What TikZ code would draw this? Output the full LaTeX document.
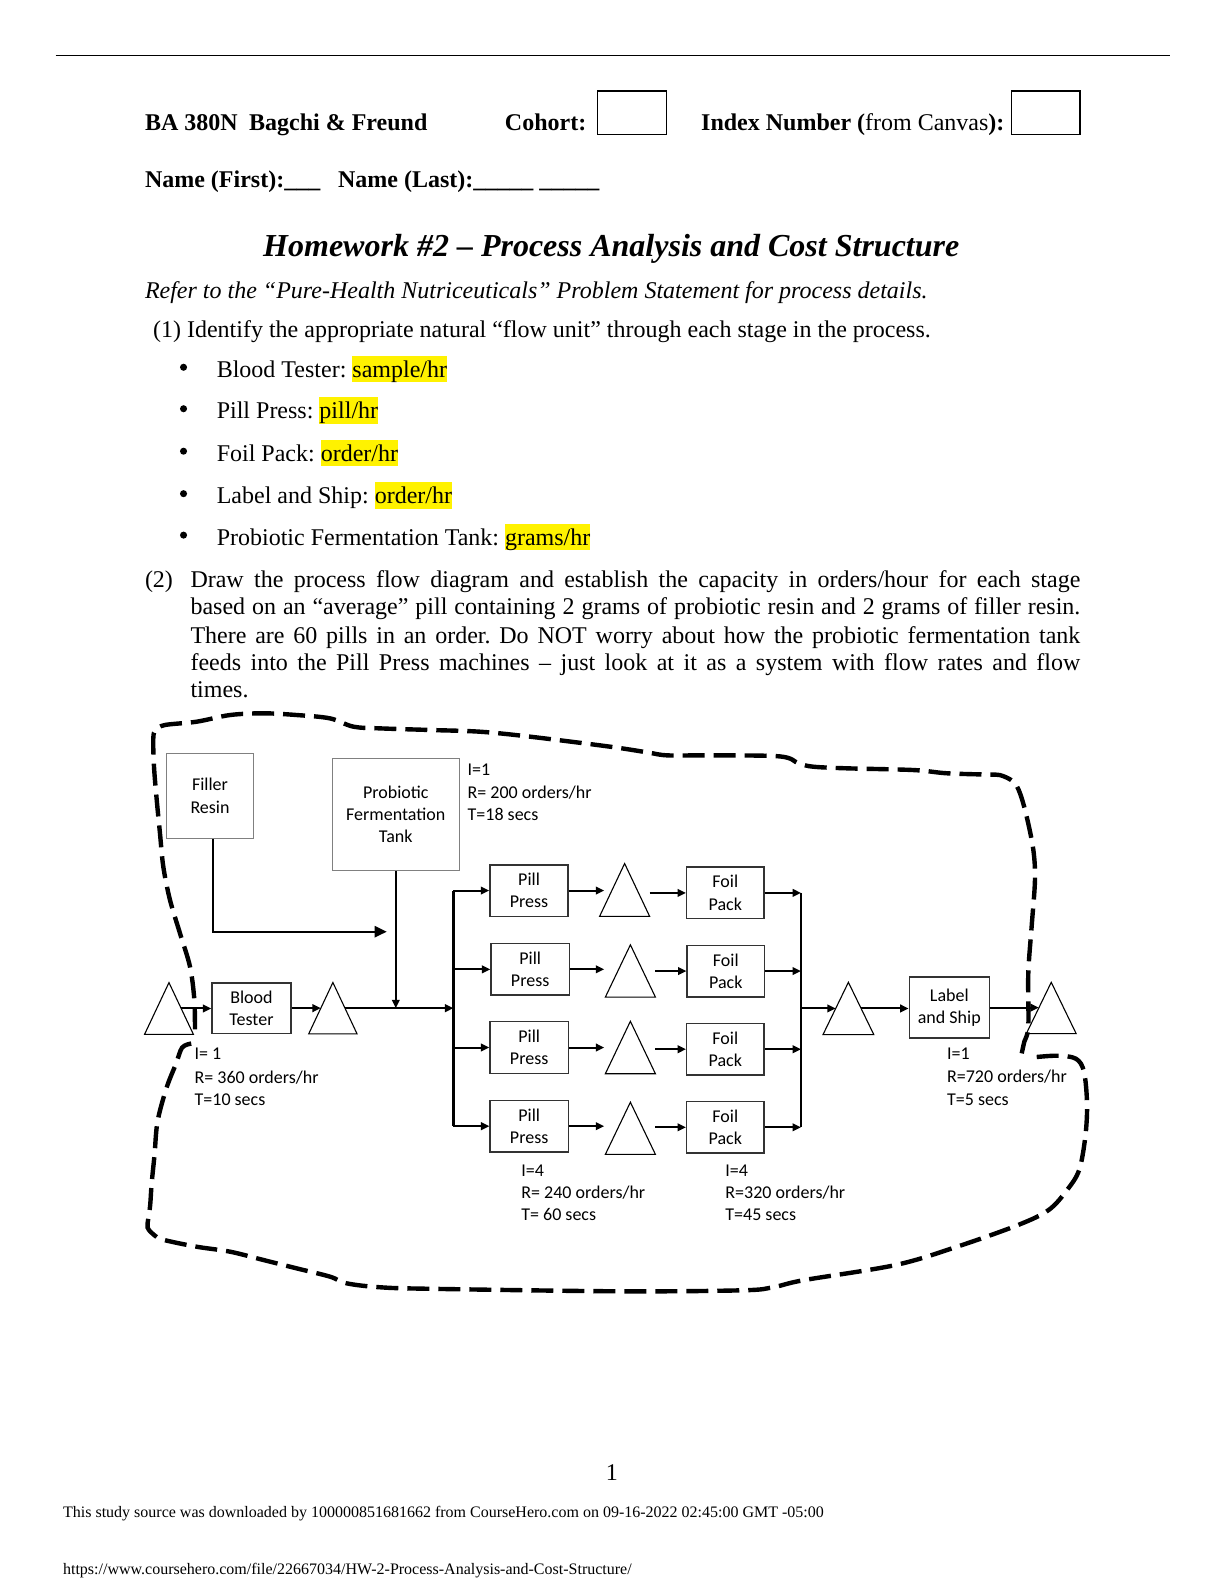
\documentclass[tikz,border=0pt]{standalone}
\usepackage{fontspec}
\setmainfont{Liberation Serif}
\newfontfamily\dgfont{Carlito}
\usetikzlibrary{arrows.meta,calc}
\newdimen\px \px=0.5056pt
\newcommand\dgf{\dgfont\fontsize{9pt}{11.1pt}\selectfont}
\newcommand\bodyf{\fontsize{12pt}{14pt}\selectfont}
\newcommand\hlt[1]{{\setlength{\fboxsep}{0pt}\colorbox{yellow}{\vrule height 10.7pt depth 2.6pt width 0pt#1}}}
\frenchspacing
\begin{document}
\bodyf
\begin{tikzpicture}[x=0.5056pt,y=-0.5056pt,
  txt/.style={inner sep=0pt, anchor=base west, font=\bodyf},
  btxt/.style={txt, font=\bodyf\bfseries},
  fieldbox/.style={draw=black, line width=0.6pt, inner sep=0pt, minimum width=68\px, minimum height=43\px},
  bulletdot/.style={circle, fill=black, inner sep=0pt, minimum size=7\px},
  pbox/.style={draw=black!80, line width=0.75pt, inner sep=0pt, align=center, font=\dgf},
  srcbox/.style={pbox, draw=black!50},
  tribox/.style={inner sep=0pt},
  triline/.style={draw=black, line width=0.55pt},
  flow/.style={line width=1pt, -{Triangle[length=4.2pt,width=3.8pt]}},
  bigflow/.style={line width=1pt, -{Triangle[length=6pt,width=5.6pt]}},
  busline/.style={line width=1.3pt},
  lbl/.style={inner sep=0pt, anchor=base west, font=\dgf},
  boundary/.style={line width=2.2pt, dash pattern=on 11pt off 4.5pt},
]
\useasboundingbox (0pt,0pt) rectangle (612pt,-792pt);

% top rule
\draw[line width=0.5pt] (55,55) -- (1157,55);

% header
\node[btxt] (h1) at (143,129) {BA 380N};
\node[btxt] (h2) at (246,129) {Bagchi \& Freund};
\node[btxt] (h3) at (499,129) {Cohort:};
\node[fieldbox] (cohortbox) at (625,111.5) {};
\node[txt] (h4) at (693,129) {\textbf{Index Number (}from Canvas\textbf{):}};
\node[fieldbox] (indexbox) at (1034,111.5) {};
\node[btxt] (n1) at (143,185) {Name (First):\_\_\_};
\node[btxt] (n2) at (334,185) {Name (Last):\_\_\_\_\_ \_\_\_\_\_};

% title
\node[inner sep=0pt, anchor=base, font=\fontsize{16pt}{19pt}\selectfont\bfseries\itshape] (title) at (604.5,254) {Homework \#2 – Process Analysis and Cost Structure};
\node[txt, font=\bodyf\itshape] (refer) at (143,295) {Refer to the “Pure-Health Nutriceuticals” Problem Statement for process details.};
\node[txt] (q1) at (151,334) {(1) Identify the appropriate natural “flow unit” through each stage in the process.};

% bullets
\foreach \yy/\name/\txt in {373/b1/{Blood Tester: \hlt{sample/hr}},
                           414/b2/{Pill Press: \hlt{pill/hr}},
                           456/b3/{Foil Pack: \hlt{order/hr}},
                           498/b4/{Label and Ship: \hlt{order/hr}},
                           539/b5/{Probiotic Fermentation Tank: \hlt{grams/hr}}} {
  \node[bulletdot] (\name dot) at (181.5,\yy-9.8) {};
  \node[txt] (\name) at (214,\yy) {\txt};
}

% question 2
\node[txt] (q2) at (143,581) {(2)};
\node[txt] (q2l1) at (188,581) {\makebox[880\px][s]{Draw the process flow diagram and establish the capacity in orders/hour for each stage}};
\node[txt] (q2l2) at (188,608) {\makebox[880\px][s]{based on an “average” pill containing 2 grams of probiotic resin and 2 grams of filler resin.}};
\node[txt] (q2l3) at (188,636) {\makebox[880\px][s]{There are 60 pills in an order. Do NOT worry about how the probiotic fermentation tank}};
\node[txt] (q2l4) at (188,663) {\makebox[880\px][s]{feeds into the Pill Press machines – just look at it as a system with flow rates and flow}};
\node[txt] (q2l5) at (188,690) {times.};

% ---------------- diagram ----------------
\node[srcbox, minimum width=85.7\px, minimum height=84\px] (fr) at (207.7,787) {Filler\\Resin};
\node[srcbox, minimum width=125.6\px, minimum height=111\px] (tk) at (391.4,805.5) {Probiotic\\Fermentation\\Tank};
\node[pbox, minimum width=78\px, minimum height=49.6\px] (bt) at (248.7,997) {Blood\\Tester};

\node[pbox, minimum width=77.3\px, minimum height=51\px] (pp1) at (523.2,880.7) {Pill\\Press};
\node[pbox, minimum width=77.3\px, minimum height=51\px] (pp2) at (524.3,958.6) {Pill\\Press};
\node[pbox, minimum width=77.3\px, minimum height=51\px] (pp3) at (523.3,1035.9) {Pill\\Press};
\node[pbox, minimum width=77.3\px, minimum height=51\px] (pp4) at (523.3,1113.7) {Pill\\Press};

\node[pbox, minimum width=76.4\px, minimum height=51\px] (fp1) at (717.3,883) {Foil\\Pack};
\node[pbox, minimum width=76.4\px, minimum height=51\px] (fp2) at (717.8,960.3) {Foil\\Pack};
\node[pbox, minimum width=76.4\px, minimum height=51\px] (fp3) at (717.3,1037.6) {Foil\\Pack};
\node[pbox, minimum width=76.4\px, minimum height=51\px] (fp4) at (717.3,1114.8) {Foil\\Pack};

\node[pbox, minimum width=79\px, minimum height=60.4\px] (ls) at (938.8,996.5) {Label\\and Ship};

% triangles (inventory)
\node[tribox, minimum width=47.5\px, minimum height=50.4\px] (t1) at (167.1,997.3) {};
\node[tribox, minimum width=47\px, minimum height=50\px] (t2) at (329.2,997) {};
\node[tribox, minimum width=48.7\px, minimum height=51.5\px] (ti1) at (617.7,880.1) {};
\node[tribox, minimum width=48.7\px, minimum height=50.9\px] (ti2) at (623.4,960.2) {};
\node[tribox, minimum width=48.7\px, minimum height=51.1\px] (ti3) at (623.4,1035.9) {};
\node[tribox, minimum width=48.7\px, minimum height=50.8\px] (ti4) at (623.4,1115.8) {};
\node[tribox, minimum width=49.5\px, minimum height=51\px] (t3) at (839,997.3) {};
\node[tribox, minimum width=48.5\px, minimum height=50\px] (t4) at (1039.6,996.8) {};
\foreach \t in {t1,t2,ti1,ti2,ti3,ti4,t3,t4}
  \draw[triline] (\t.north) -- (\t.south west) -- (\t.south east) -- cycle;

\coordinate (t1r) at ($(t1.north)!0.5!(t1.south east)$);
\coordinate (t2l) at ($(t2.north)!0.5!(t2.south west)$);
\coordinate (t2r) at ($(t2.north)!0.5!(t2.south east)$);
\coordinate (t3l) at ($(t3.north)!0.5!(t3.south west)$);
\coordinate (t3r) at ($(t3.north)!0.5!(t3.south east)$);
\coordinate (t4l) at ($(t4.north)!0.5!(t4.south west)$);
\coordinate (bxL) at (448.3,997);
\coordinate (bxR) at (792.1,997);
\coordinate (tipx) at (597.5,997);
\coordinate (fend) at (382.4,921.4);

% connectors
\draw[bigflow] ([xshift=3.3\px]fr.south) |- (fend);
\draw[flow] (tk.south) -- (tk.south |- t2r);
\draw[flow] (t1r) -- (t1r -| bt.west);
\draw[flow] (bt.east) -- (bt.east -| t2l);
\draw[flow] (t2r) -- (t2r -| bxL);
\draw[busline] (pp1.west -| bxL) -- (pp4.west -| bxL);
\foreach \i in {1,2,3,4} {
  \draw[flow] (pp\i.west -| bxL) -- (pp\i.west);
  \draw[flow] (pp\i.east) -- (pp\i.east -| tipx);
  \draw[flow] (ti\i.south east |- fp\i.west) -- (fp\i.west);
  \draw[flow] (fp\i.east) -- (fp\i.east -| bxR);
}
\draw[busline] (fp1.east -| bxR) -- (fp4.east -| bxR);
\draw[flow] (bxR |- t3l) -- (t3l);
\draw[flow] (t3r) -- (t3r -| ls.west);
\draw[flow] (ls.east) -- (ls.east -| t4l);

% labels
\node[lbl] (tkl1) at (462.1,767.2) {I=1};
\node[lbl] (tkl2) at (462.1,789.6) {R= 200 orders/hr};
\node[lbl] (tkl3) at (462.1,811.7) {T=18 secs};

\node[lbl] (btl1) at (192.1,1047.8) {I= 1};
\node[lbl] (btl2) at (192.1,1071.2) {R= 360 orders/hr};
\node[lbl] (btl3) at (192.1,1093.5) {T=10 secs};

\node[lbl] (ppl1) at (515.2,1163.7) {I=4};
\node[lbl] (ppl2) at (515.2,1185.7) {R= 240 orders/hr};
\node[lbl] (ppl3) at (515.2,1206.7) {T= 60 secs};

\node[lbl] (fpl1) at (717,1163.7) {I=4};
\node[lbl] (fpl2) at (717,1185.7) {R=320 orders/hr};
\node[lbl] (fpl3) at (717,1206.7) {T=45 secs};

\node[lbl] (lsl1) at (936.2,1047.4) {I=1};
\node[lbl] (lsl2) at (936.2,1070.5) {R=720 orders/hr};
\node[lbl] (lsl3) at (936.2,1093.6) {T=5 secs};

% hand-drawn dashed boundary
\draw[boundary] plot[smooth, tension=0.55] coordinates {
 (189.1,1032) (180.1,1036) (174,1052.1) (164.8,1075.5) (155.8,1109) (152.8,1142.3) (150,1170) (148.5,1192) (146.7,1205) (146,1214) (152,1221) (161.5,1226) (194.5,1232.9) (227.5,1237.8) (260.4,1246) (293.4,1254.3) (326.3,1262.5) (342.8,1269.1) (375.8,1273) (425.2,1274.5) (613,1277) (734.2,1276) (764.4,1273) (794.7,1266) (885.6,1251) (946.1,1233) (1006.6,1211.5) (1036.9,1196.7) (1055.1,1177) (1067.2,1157) (1073.3,1124) (1075,1092) (1072,1060) (1064,1047) (1045,1044) (1018,1046)};
\draw[boundary] plot[smooth, tension=0.55] coordinates {
 (1010.4,1041.7) (1013,1030) (1016.9,1015.3) (1016.9,962.5) (1020.2,916.4) (1023.5,870.3) (1021.9,840.6) (1015.3,807.6) (1008.7,784.5) (1002.1,773) (988.9,766.5) (975.7,766) (936.2,764.7) (903.2,761.5) (837.3,759.8) (804.3,758.2) (790,755) (771,748) (700,747) (660,747) (640,744) (603.2,738.4) (524.1,728.5) (474.7,723.6) (425.2,721.9) (375.8,720.3) (349.4,718.6) (326.3,710.4) (293.4,707.1) (260.4,705.4) (227.5,707.1) (194.5,713.7) (163,717) (154,722) (151.6,730) (152.3,758.2) (155,791.1) (158.2,824.1) (161.5,857.1) (168.1,890) (178,923) (187.9,956) (192.2,989) (192.8,1021.9)};

% footer
\node[inner sep=0pt, anchor=base, font=\bodyf] (pageno) at (605,1464) {1};
\node[txt, font=\fontsize{8pt}{9pt}\selectfont] (foot1) at (62,1501) {This study source was downloaded by 100000851681662 from CourseHero.com on 09-16-2022 02:45:00 GMT -05:00};
\node[txt, font=\fontsize{8pt}{9pt}\selectfont] (foot2) at (62,1557) {https://www.coursehero.com/file/22667034/HW-2-Process-Analysis-and-Cost-Structure/};
\end{tikzpicture}
\end{document}
